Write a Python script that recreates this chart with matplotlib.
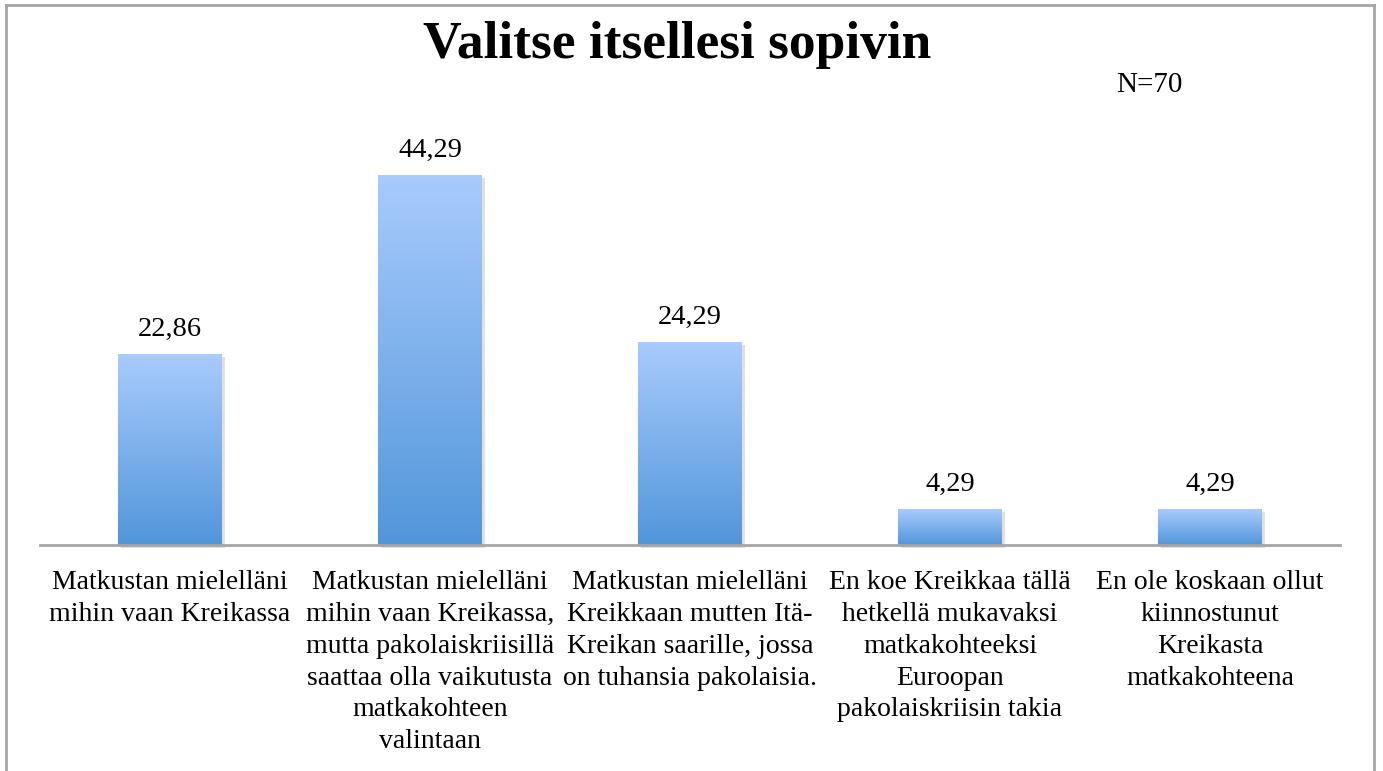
import numpy as np
import matplotlib.pyplot as plt
from matplotlib.colors import LinearSegmentedColormap
from matplotlib.lines import Line2D
from matplotlib.patches import Rectangle

plt.rcParams['font.family'] = ['Liberation Serif', 'DejaVu Serif']

categories = [
    "Matkustan mielelläni\nmihin vaan Kreikassa",
    "Matkustan mielelläni\nmihin vaan Kreikassa,\nmutta pakolaiskriisillä\nsaattaa olla vaikutusta\nmatkakohteen\nvalintaan",
    "Matkustan mielelläni\nKreikkaan mutten Itä-\nKreikan saarille, jossa\non tuhansia pakolaisia.",
    "En koe Kreikkaa tällä\nhetkellä mukavaksi\nmatkakohteeksi\nEuroopan\npakolaiskriisin takia",
    "En ole koskaan ollut\nkiinnostunut\nKreikasta\nmatkakohteena",
]
values = [22.86, 44.29, 24.29, 4.29, 4.29]
value_labels = ["22,86", "44,29", "24,29", "4,29", "4,29"]

W, H = 1383, 771
fig = plt.figure(figsize=(W / 100, H / 100), dpi=100)
ax = fig.add_axes([40 / W, (H - 545) / H, 1300 / W, 417.7 / H])

cmap = LinearSegmentedColormap.from_list("bar", ["#5196DA", "#A9CBFD"])
grad = np.linspace(1, 0, 256).reshape(-1, 1)
bw = 0.4
x = np.arange(len(values))
for xi, v, lab in zip(x, values, value_labels):
    # soft shadow
    ax.add_patch(Rectangle((xi - bw / 2 + 0.01, -0.35), bw, v, color="#9a9a9a",
                           alpha=0.3, lw=0, zorder=1, clip_on=False))
    ax.imshow(grad, cmap=cmap, aspect="auto", extent=[xi - bw / 2, xi + bw / 2, 0, v],
              zorder=2, interpolation="bilinear")
    ax.text(xi, v + 2.2, lab, ha="center", va="baseline", fontsize=20.5)

ax.set_xlim(-0.5, 4.5)
ax.set_ylim(0, 50)
for s in ["top", "left", "right"]:
    ax.spines[s].set_visible(False)
ax.spines["bottom"].set_color("#a6a6a6")
ax.spines["bottom"].set_linewidth(2)
ax.spines["bottom"].set_zorder(3)
ax.set_yticks([])
ax.set_xticks(x)
ax.set_xticklabels(categories, fontsize=20, linespacing=1.36)
ax.tick_params(axis="x", length=0, pad=18)

fig.text(677 / W, 1 - 45 / H, "Valitse itsellesi sopivin", ha="center", va="center",
         fontsize=38.5, fontweight="bold")
fig.text(1149 / W, 1 - 85 / H, "N=70", ha="center", va="center", fontsize=21)

# outer frame
fc = "#a6a6a6"
fig.add_artist(Line2D([6 / W, 1374 / W], [1 - 5 / H, 1 - 5 / H], color=fc, lw=2))
fig.add_artist(Line2D([6 / W, 6 / W], [0, 1 - 5 / H], color=fc, lw=2))
fig.add_artist(Line2D([1374 / W, 1374 / W], [0, 1 - 5 / H], color=fc, lw=2))

fig.savefig("out.png", dpi=100)
